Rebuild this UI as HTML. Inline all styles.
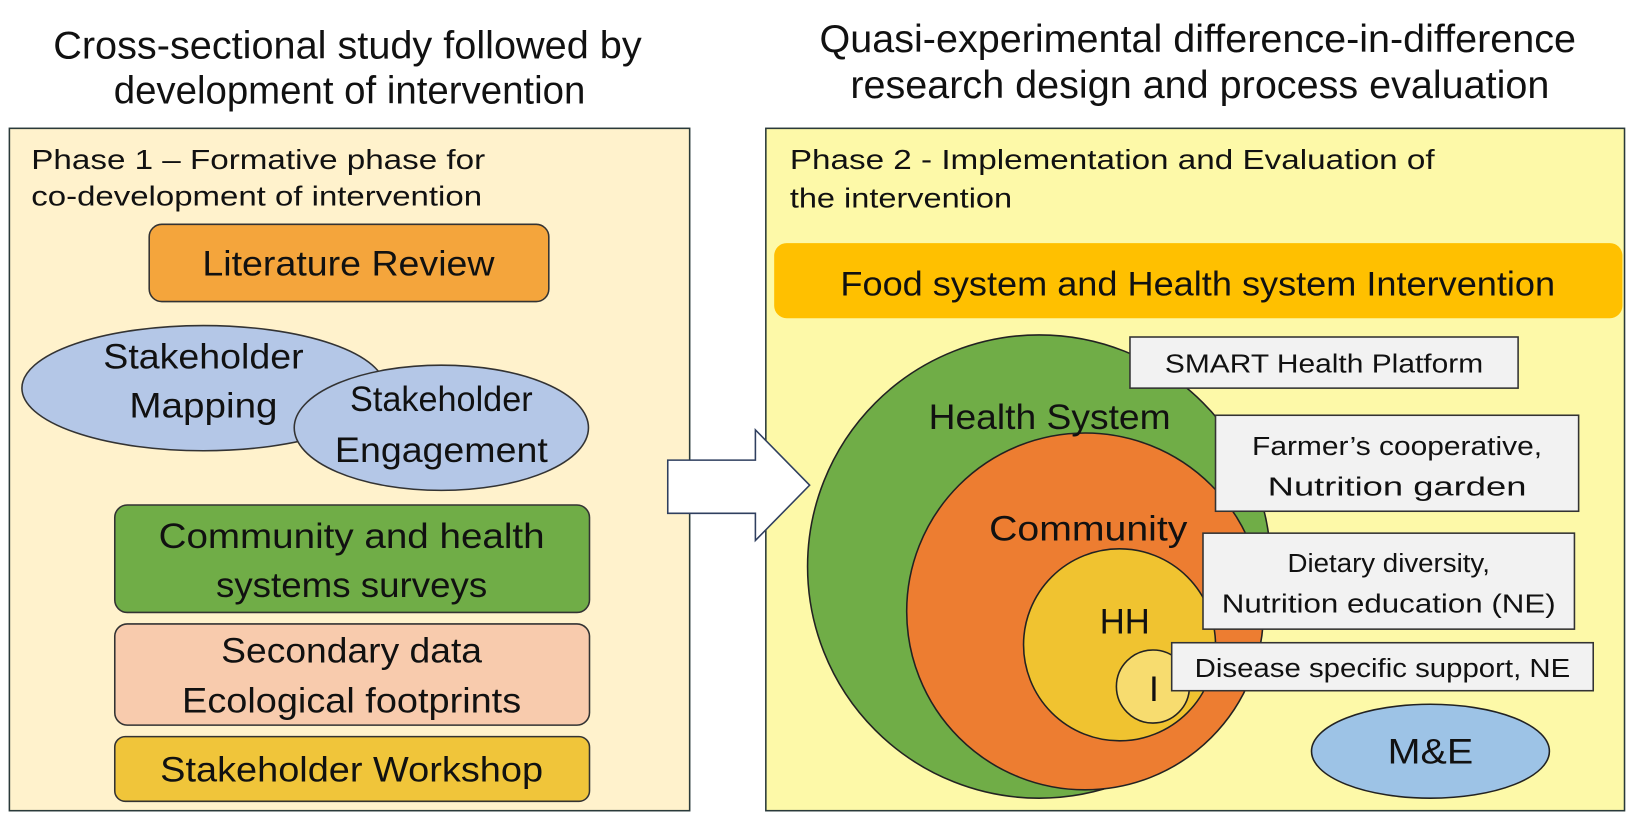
<!DOCTYPE html>
<html><head><meta charset="utf-8"><style>html,body{margin:0;padding:0;background:#fff}svg{display:block}text{font-family:"Liberation Sans",sans-serif;fill:#111}</style></head>
<body>
<svg width="1636" height="818" viewBox="0 0 1568 784" xmlns="http://www.w3.org/2000/svg">
<g font-size="37" text-anchor="middle">
<text x="333" y="56" textLength="564" lengthAdjust="spacingAndGlyphs">Cross-sectional study followed by</text>
<text x="335" y="99" textLength="452" lengthAdjust="spacingAndGlyphs">development of intervention</text>
<text x="1148" y="50" textLength="725" lengthAdjust="spacingAndGlyphs">Quasi-experimental difference-in-difference</text>
<text x="1150" y="94" textLength="670" lengthAdjust="spacingAndGlyphs">research design and process evaluation</text>
</g>
<rect x="9" y="123" width="652" height="654" fill="#fff2cc" stroke="#2a3a3a" stroke-width="1.5"/>
<rect x="734" y="123" width="823" height="654" fill="#fdf9a8" stroke="#2a3a3a" stroke-width="1.5"/>
<g font-size="27">
<text x="30" y="162" textLength="435" lengthAdjust="spacingAndGlyphs">Phase 1 – Formative phase for</text>
<text x="30" y="197" textLength="432" lengthAdjust="spacingAndGlyphs">co-development of intervention</text>
<text x="757" y="162" textLength="618" lengthAdjust="spacingAndGlyphs">Phase 2 - Implementation and Evaluation of</text>
<text x="757" y="199" textLength="213" lengthAdjust="spacingAndGlyphs">the intervention</text>
</g>
<rect x="143" y="215" width="383" height="74" rx="12" fill="#f4a53c" stroke="#333" stroke-width="1.5"/>
<ellipse cx="195" cy="372" rx="174" ry="60" fill="#b4c7e7" stroke="#333" stroke-width="1.5"/>
<ellipse cx="423" cy="410" rx="141" ry="60" fill="#b4c7e7" stroke="#333" stroke-width="1.5"/>
<rect x="110" y="484" width="455" height="103" rx="12" fill="#70ad47" stroke="#333" stroke-width="1.5"/>
<rect x="110" y="598" width="455" height="97" rx="12" fill="#f8cbad" stroke="#333" stroke-width="1.5"/>
<rect x="110" y="706" width="455" height="62" rx="10" fill="#f0c53a" stroke="#333" stroke-width="1.5"/>
<g font-size="34" text-anchor="middle">
<text x="334" y="264" textLength="280" lengthAdjust="spacingAndGlyphs">Literature Review</text>
<text x="195" y="353" textLength="192" lengthAdjust="spacingAndGlyphs">Stakeholder</text>
<text x="195" y="400" textLength="142" lengthAdjust="spacingAndGlyphs">Mapping</text>
<text x="423" y="394" textLength="175" lengthAdjust="spacingAndGlyphs">Stakeholder</text>
<text x="423" y="443" textLength="204" lengthAdjust="spacingAndGlyphs">Engagement</text>
<text x="337" y="525" textLength="370" lengthAdjust="spacingAndGlyphs">Community and health</text>
<text x="337" y="572" textLength="260" lengthAdjust="spacingAndGlyphs">systems surveys</text>
<text x="337" y="635" textLength="250" lengthAdjust="spacingAndGlyphs">Secondary data</text>
<text x="337" y="683" textLength="325" lengthAdjust="spacingAndGlyphs">Ecological footprints</text>
<text x="337" y="749" textLength="367" lengthAdjust="spacingAndGlyphs">Stakeholder Workshop</text>
</g>
<polygon points="640,441 724,441 724,412 776,465 724,518 724,492 640,492" fill="#fff" stroke="#2f3f5f" stroke-width="1.5"/>
<rect x="742" y="233" width="813" height="72" rx="12" fill="#ffc000"/>
<text x="1148" y="283" font-size="33" text-anchor="middle" textLength="685" lengthAdjust="spacingAndGlyphs">Food system and Health system Intervention</text>
<circle cx="996" cy="543" r="222" fill="#70ad47" stroke="#222" stroke-width="1.5"/>
<circle cx="1040" cy="586" r="171" fill="#ed7d31" stroke="#222" stroke-width="1.5"/>
<circle cx="1073" cy="618" r="92" fill="#f0c330" stroke="#222" stroke-width="1.5"/>
<circle cx="1105" cy="658" r="35" fill="#f7dc6f" stroke="#222" stroke-width="1.5"/>
<g font-size="34" text-anchor="middle">
<text x="1006" y="411" textLength="232" lengthAdjust="spacingAndGlyphs">Health System</text>
<text x="1043" y="518" textLength="190" lengthAdjust="spacingAndGlyphs">Community</text>
<text x="1078" y="607" textLength="48" lengthAdjust="spacingAndGlyphs">HH</text>
<text x="1106" y="672">I</text>
</g>
<g fill="#f2f2f2" stroke="#333" stroke-width="1.5">
<rect x="1083" y="323" width="372" height="49"/>
<rect x="1165" y="398" width="348" height="92"/>
<rect x="1153" y="511" width="356" height="92"/>
<rect x="1123" y="616" width="404" height="46"/>
</g>
<ellipse cx="1371" cy="720" rx="114" ry="45" fill="#9dc3e6" stroke="#222" stroke-width="1.5"/>
<g font-size="25" text-anchor="middle">
<text x="1269" y="357" textLength="305" lengthAdjust="spacingAndGlyphs">SMART Health Platform</text>
<text x="1339" y="436" textLength="278" lengthAdjust="spacingAndGlyphs">Farmer’s cooperative,</text>
<text x="1339" y="475" textLength="248" lengthAdjust="spacingAndGlyphs">Nutrition garden</text>
<text x="1331" y="548" textLength="194" lengthAdjust="spacingAndGlyphs">Dietary diversity,</text>
<text x="1331" y="587" textLength="320" lengthAdjust="spacingAndGlyphs">Nutrition education (NE)</text>
<text x="1325" y="649" textLength="360" lengthAdjust="spacingAndGlyphs">Disease specific support, NE</text>
</g>
<text x="1371" y="732" font-size="34" text-anchor="middle" textLength="82" lengthAdjust="spacingAndGlyphs">M&amp;E</text>
</svg>
</body></html>
